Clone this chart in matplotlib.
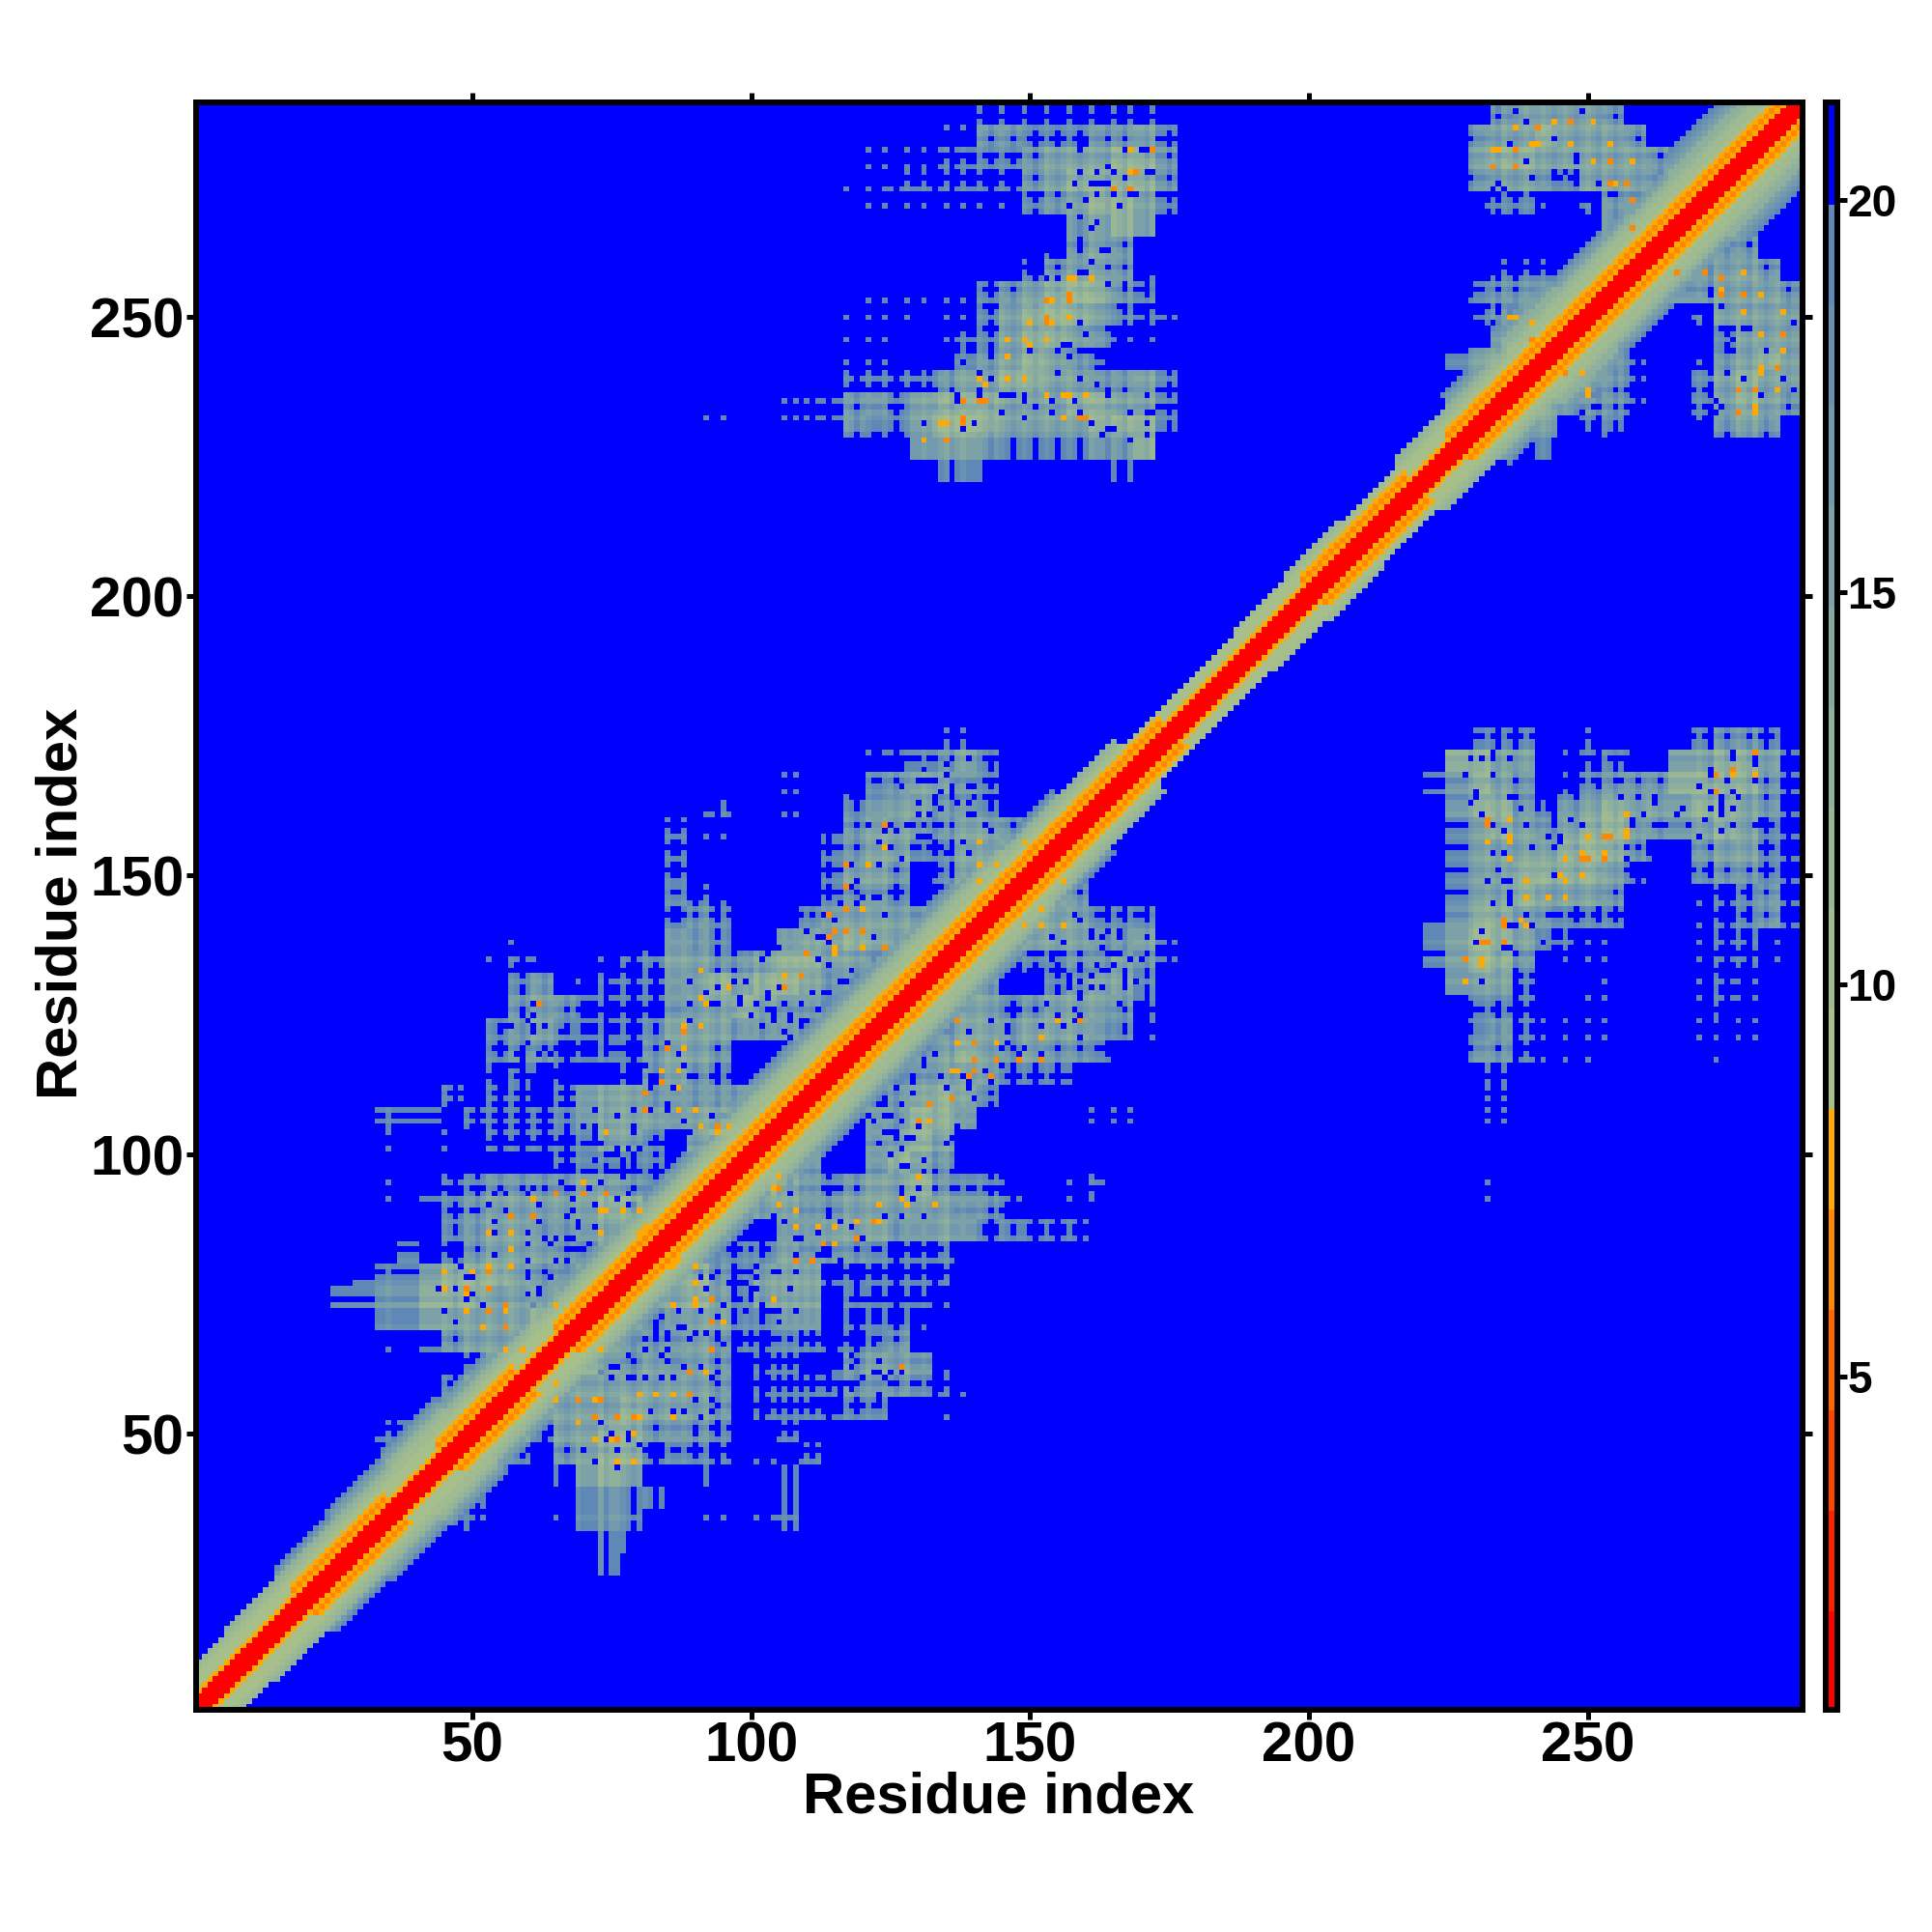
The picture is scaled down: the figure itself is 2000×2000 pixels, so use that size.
import numpy as np
import matplotlib
matplotlib.use("Agg")
import matplotlib.pyplot as plt
from matplotlib.colors import ListedColormap, BoundaryNorm

plt.rcParams['font.family'] = ['Liberation Sans', 'DejaVu Sans']
plt.rcParams['font.weight'] = 'bold'

n_res = 288
ticks = [50, 100, 150, 200, 250]
cbar_ticks = [5, 10, 15, 20]
level_colors = ["#FF0000", "#FF2000", "#FF4400", "#FF6600", "#FF8800", "#FFAA00",
                "#A6BF8B", "#A0BB90", "#99B696", "#8FB09C", "#86A9A2", "#7CA2A8",
                "#7299AD", "#6991B2", "#5F88B7", "#0000FF"]
level_min, level_max = 0.75, 21.25

# distance (A) for each shade letter in contact_rows
shade_values = {'0': 21.5, '9': 20.5, '1': 19.0, '2': 17.0, '3': 15.0, '4': 12.8, '5': 10.8, '.': 30.0}

# distance by |i-j| next to the diagonal, first six are the red/orange part
band_core = [1.0, 1.5, 1.9, 7.8, 6.4, 7.8]
band_outer = [9.3, 10.0, 10.8, 11.5, 12.5, 13.5, 15.0, 16.5, 17.8, 19.0]
# band half width per 10 residues along the chain
band_width = [8, 9, 11, 12, 13, 12, 12, 12, 12, 12, 13, 13, 13, 13, 13, 11, 9, 6, 6, 7,
              8, 7, 9, 12, 15, 13, 13, 15, 15]
thin_ranges = [(1, 19), (37, 45), (60, 66), (176, 200), (220, 226)]

# residues whose streaks run closer / further than their neighbours
near_residues = [35, 45, 49, 53, 57, 61, 65, 69, 73, 77, 81, 85, 88, 92, 95, 99, 101, 104, 106,
                 108, 110, 112, 117, 121, 124, 128, 131, 135, 138, 141, 145, 149, 153, 157, 161,
                 165, 168, 172, 232, 235, 239, 242, 246, 250, 253, 257, 261, 270, 273, 277, 280, 284]
far_residues = [47, 51, 55, 59, 63, 67, 74, 79, 83, 90, 94, 97, 102, 114, 119, 126, 133, 136, 143,
                147, 151, 155, 159, 164, 167, 171, 175, 229, 234, 237, 244, 248, 252, 255, 259,
                263, 272, 275, 279, 282, 286]

# (y start, x start, shade per 4 residues), upper triangle only
contact_rows = [
    (285, 141, "999999999"), (281, 133, "00221112231"), (277, 121, "00099112333442"),
    (273, 117, "009999992344442"), (269, 121, "00000001234431"), (265, 157, "2343"),
    (261, 153, "0232"), (257, 149, "923320"), (253, 121, "00000"), (253, 141, "123454210"),
    (249, 117, "000"), (249, 133, "00134543199"), (245, 117, "00"), (245, 133, "0913443200"),
    (241, 117, "00"), (241, 137, "1234329"), (237, 113, "0999923344332231"),
    (233, 105, "009221344433344331"), (229, 89, "00"), (229, 105, "009211355433334441"),
    (225, 117, "00"), (225, 129, "23321111224"), (221, 129, "0119"), (221, 165, "9"),
    (285, 233, "233332"), (281, 229, "23343332"), (277, 229, "344333332"),
    (273, 229, "233213332"), (269, 229, "0110.9222"), (265, 233, "0....233"),
    (261, 249, "0144"), (257, 233, "999"), (253, 229, "12223"), (249, 229, "92333"),
    (245, 233, "233"), (241, 225, "134"),
    (173, 133, "99"), (169, 121, "091231"), (165, 105, "0"), (165, 121, "123321"),
    (161, 105, "0"), (161, 89, "09"), (161, 113, "01233221"), (157, 85, "900"),
    (157, 113, "923322332"), (153, 85, "9"), (153, 113, "123311333"), (149, 85, "9"),
    (149, 113, "1332.133"), (145, 85, "190"), (145, 113, "1221.."), (141, 85, "921"),
    (141, 109, "133332"), (137, 57, "0"), (137, 85, "221"), (137, 105, "233433"),
    (133, 53, "090"), (133, 73, "0913322344332"), (129, 57, "12.0999234344322"),
    (125, 57, "232999923343221"), (121, 53, "12319991333222"), (117, 53, "12299192332"),
    (113, 53, "9199..92321"), (109, 41, "09.99.923322222"), (105, 33, "999.999912333233"),
    (101, 29, "00000.99991331.34"), (97, 65, "91111.23"), (93, 33, "0"),
    (93, 45, "91222233212"), (89, 33, "0091233333443"), (85, 45, "123322233"),
    (81, 37, "1.92333213"), (77, 29, "911344432234"), (73, 25, "112244433333"),
    (69, 29, "0113333344"), (65, 33, "0.923333"), (61, 49, "923"), (57, 45, "13"),
    (49, 33, "913"),
]

# single close contacts (x, y)
orange_contacts = [(168, 280), (168, 276), (157, 257), (158, 257), (161, 257), (154, 253), (157, 250),
                   (154, 249), (150, 249), (146, 246), (149, 246), (150, 245), (153, 246), (146, 243),
                   (146, 239), (149, 239), (141, 239), (142, 238), (153, 236), (156, 236), (157, 236),
                   (160, 236), (156, 232), (134, 231), (135, 231), (131, 228), (237, 284), (244, 285),
                   (251, 285), (233, 280), (234, 280), (240, 281), (241, 281), (247, 281), (254, 281),
                   (251, 278), (258, 278), (255, 274), (236, 250), (237, 250), (240, 249), (91, 133),
                   (106, 132), (96, 130), (91, 128), (92, 127), (88, 123), (91, 123), (88, 119),
                   (84, 115), (87, 115), (87, 112), (87, 108), (90, 108), (91, 105), (74, 104),
                   (96, 105), (94, 104), (70, 95), (61, 92), (73, 90), (77, 90), (74, 90), (80, 90),
                   (81, 87), (53, 86), (57, 86), (73, 86), (80, 86), (57, 83), (57, 80), (53, 80),
                   (45, 79), (50, 79), (45, 76), (49, 75), (56, 72), (49, 72), (65, 73), (52, 69),
                   (56, 65), (59, 65), (149, 156), (141, 156), (141, 152), (144, 152), (141, 149),
                   (124, 155), (121, 152), (120, 144), (115, 137), (115, 136), (120, 137)]
deep_contacts = [(172, 280), (169, 276), (165, 273), (168, 273), (157, 254), (157, 253), (153, 253),
                 (153, 250), (153, 249), (138, 235), (141, 235), (142, 235), (160, 232), (159, 232),
                 (138, 232), (138, 231), (135, 228), (241, 284), (247, 285), (237, 280), (237, 277),
                 (233, 277), (254, 278), (254, 274), (257, 274), (258, 271), (258, 266), (240, 246),
                 (62, 127), (109, 132), (88, 122), (85, 119), (84, 113), (81, 111), (81, 108), (94, 105),
                 (65, 93), (70, 93), (74, 93), (57, 89), (61, 89), (53, 79), (53, 76), (49, 76), (53, 72),
                 (56, 73), (56, 69), (124, 159), (124, 137), (117, 152), (117, 148), (117, 144),
                 (114, 143), (115, 140), (117, 140), (120, 140), (114, 139), (110, 136), (106, 130)]

# blue single cells inside the blobs (x, y)
blue_cells = [(164, 277), (159, 276), (162, 276), (165, 276), (167, 275), (171, 276), (172, 276), (159, 280),
              (160, 281), (167, 280), (170, 280), (171, 280), (158, 274), (161, 274), (162, 274), (163, 274),
              (164, 274), (162, 272), (165, 272), (168, 272), (169, 272), (160, 271), (166, 270), (157, 270),
              (159, 268), (162, 267), (161, 266), (159, 264), (159, 262), (163, 262), (164, 262), (161, 260),
              (164, 259), (159, 258), (160, 258), (153, 257), (155, 257), (164, 256), (167, 256), (167, 255),
              (159, 249), (160, 247), (156, 245), (157, 245), (150, 244), (155, 244), (157, 243), (160, 244),
              (143, 244), (143, 243), (155, 240), (159, 239), (143, 239), (141, 240), (138, 242), (141, 237),
              (141, 236), (137, 236), (137, 235), (145, 236), (146, 236), (147, 236), (149, 236), (149, 235),
              (154, 235), (158, 235), (162, 238), (164, 236), (171, 236), (171, 233), (172, 233), (145, 233),
              (151, 234), (168, 233), (159, 233), (154, 233), (149, 232), (131, 231), (140, 231), (138, 230),
              (161, 231), (164, 230), (165, 230), (171, 231), (171, 229), (163, 229), (168, 228),
              (237, 287), (249, 287), (239, 285), (244, 282), (236, 281), (248, 279), (248, 278), (239, 278),
              (240, 275), (244, 276), (246, 276), (248, 274), (252, 274), (234, 274), (233, 273), (235, 273),
              (238, 272), (240, 272), (250, 271), (251, 272), (251, 270), (254, 272), (259, 269), (261, 270),
              (262, 269), (263, 273), (263, 272), (264, 268), (263, 267), (263, 266), (257, 266), (256, 265),
              (254, 264), (253, 263), (261, 265), (234, 251), (237, 252), (236, 251), (238, 251), (233, 249),
              (135, 170), (135, 168), (139, 171), (131, 169), (130, 167), (131, 167), (132, 167), (133, 167),
              (127, 166), (134, 165), (136, 166), (136, 165), (139, 166), (140, 166), (140, 164), (130, 163),
              (133, 163), (137, 163), (139, 163), (134, 162), (130, 161), (132, 161), (139, 161), (140, 161),
              (142, 159), (143, 158), (121, 159), (125, 159), (126, 158), (128, 159), (129, 159), (131, 159),
              (133, 159), (134, 159), (124, 158), (130, 157), (131, 157), (132, 157), (138, 156), (146, 155),
              (125, 155), (123, 156), (135, 154), (136, 154), (139, 154), (127, 153), (142, 152), (142, 151),
              (118, 152), (123, 152), (138, 149), (119, 149), (118, 148), (140, 147), (120, 146), (122, 146),
              (123, 146), (116, 145), (119, 145), (113, 143), (124, 143), (115, 142), (110, 140), (122, 139),
              (128, 139), (112, 139), (113, 139), (114, 138), (126, 138), (105, 137), (127, 136), (103, 136),
              (102, 135), (122, 135), (112, 135), (125, 135), (114, 134), (121, 133), (118, 133), (119, 132),
              (125, 132), (116, 131), (117, 131), (118, 131), (120, 131), (128, 131), (123, 130), (105, 130),
              (103, 129), (103, 128), (111, 129), (113, 129), (114, 129), (117, 129), (118, 129), (121, 129),
              (101, 127), (106, 127), (109, 127), (114, 127), (116, 126), (103, 126), (104, 126), (112, 126),
              (107, 125), (107, 124), (114, 124), (102, 123), (106, 122), (107, 121), (111, 121), (110, 120),
              (112, 120), (110, 118), (111, 118),
              (61, 127), (59, 125), (61, 125), (60, 124), (63, 123), (61, 123), (61, 122), (56, 123), (57, 123),
              (66, 122), (60, 120), (56, 119), (58, 118), (59, 118), (59, 117), (62, 118), (64, 118), (57, 116),
              (58, 116), (63, 115), (65, 115), (54, 114), (54, 113), (59, 114), (61, 114), (59, 113), (61, 113),
              (56, 112), (89, 131), (97, 131), (99, 131), (92, 129), (94, 130), (89, 127), (89, 124), (93, 127),
              (94, 127), (98, 128), (98, 127), (100, 125), (104, 125), (104, 124), (88, 116), (85, 120),
              (87, 118), (81, 116), (89, 114), (82, 114), (82, 113), (82, 112), (83, 113), (86, 112), (85, 109),
              (85, 108), (79, 108), (82, 108), (76, 107), (93, 107), (95, 107), (88, 106), (89, 104), (93, 103),
              (79, 105), (79, 104), (91, 100), (95, 100), (72, 108), (70, 105), (72, 105), (72, 104), (72, 103),
              (73, 102), (76, 101), (78, 101), (80, 101), (74, 100), (75, 100), (76, 100), (77, 99), (79, 99),
              (72, 99), (77, 98), (79, 98), (77, 97), (79, 97), (72, 97), (77, 96), (73, 95), (66, 95), (68, 94),
              (71, 94), (61, 94), (54, 93), (56, 93), (60, 93), (62, 91), (68, 92), (76, 92), (78, 93), (79, 91),
              (78, 91), (72, 91), (82, 91), (81, 92), (53, 91), (50, 90), (56, 90), (68, 90), (81, 90), (54, 88),
              (62, 88), (67, 89), (69, 88), (69, 87), (72, 87), (54, 86), (60, 86), (63, 85), (67, 85), (68, 85),
              (65, 85), (60, 84), (64, 84), (71, 84), (68, 83), (76, 84), (69, 83), (54, 82), (46, 82), (60, 81),
              (65, 81), (67, 81), (48, 80), (60, 79), (63, 79), (60, 78), (64, 78), (67, 78), (49, 78), (50, 78),
              (62, 76), (44, 76), (47, 76), (50, 75), (49, 74), (60, 75), (62, 75), (52, 73), (61, 73), (45, 72),
              (47, 70)]


def build_matrix():
    offset = np.zeros(n_res + 1)
    offset[near_residues] = -1.0
    offset[far_residues] = 1.8

    dist = np.full((n_res + 1, n_res + 1), 30.0)  # index [y, x]
    for y0, x0, shades in contact_rows:
        for c, s in enumerate(shades):
            for x in range(x0 + 4 * c, min(x0 + 4 * c + 4, n_res + 1)):
                for y in range(y0, min(y0 + 4, n_res + 1)):
                    if y > x:
                        dist[y, x] = shade_values[s] + offset[x] + offset[y]

    for x, y in blue_cells:
        dist[y, x] = 30.0
    for x, y in orange_contacts:
        dist[y, x] = 7.8
    for x, y in deep_contacts:
        dist[y, x] = 6.4

    # band along the diagonal
    for x in range(1, n_res + 1):
        for y in range(x, n_res + 1):
            k = y - x
            mid = (x + y) // 2
            w = band_width[min(mid // 10, len(band_width) - 1)]
            thin = any(a <= mid <= b for a, b in thin_ranges)
            if k < len(band_core):
                v = band_core[k]
                if thin and k >= 4:
                    v = band_outer[0]
            elif k <= w:
                v = band_outer[(k - 6) * (len(band_outer) - 1) // max(w - 6, 5)]
            else:
                continue
            dist[y, x] = min(dist[y, x], v)

    upper = dist[1:, 1:]
    return np.minimum(upper, upper.T)


matrix = build_matrix()

fig = plt.figure(figsize=(20, 20), dpi=100)
px = 2000.0
ax = fig.add_axes([203 / px, 1 - 1770 / px, (1866 - 203) / px, (1770 - 106) / px])
cax = fig.add_axes([1889.5 / px, 1 - 1770 / px, 12 / px, (1770 - 106) / px])

cmap = ListedColormap(level_colors)
bounds = np.linspace(level_min, level_max, len(level_colors) + 1)
norm = BoundaryNorm(bounds, cmap.N)

im = ax.imshow(matrix, origin='lower', cmap=cmap, norm=norm, interpolation='nearest',
               extent=(0.5, n_res + 0.5, 0.5, n_res + 0.5), aspect='auto')

ax.set_xticks(ticks)
ax.set_yticks(ticks)
ax.tick_params(top=True, right=True, length=7, width=3.6, labelsize=42)
ax.tick_params(axis='y', pad=2)
ax.tick_params(axis='x', pad=1)
for s in ax.spines.values():
    s.set_linewidth(4.3)

cb = fig.colorbar(im, cax=cax, ticks=cbar_ticks, spacing='proportional')
cb.solids.set_edgecolor('face')
cb.outline.set_linewidth(4.3)
cb.ax.tick_params(length=7, width=3.6, labelsize=33, pad=1)
cb.ax.minorticks_off()

fig.text(1034 / px, 1 - 1861 / px, "Residue index", fontsize=43, fontweight='bold',
         ha='center', va='center')
fig.text(64 / px, 1 - 935 / px, "Residue index", fontsize=43, fontweight='bold',
         ha='center', va='center', rotation=90)

fig.savefig("out.png", dpi=100, facecolor='white')
